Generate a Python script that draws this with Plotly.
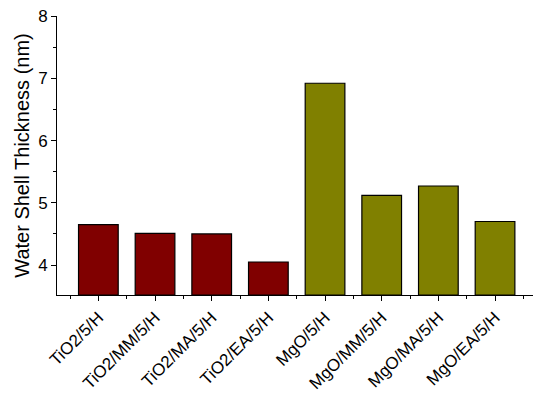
import plotly.graph_objects as go

samples = ["TiO2/5/H", "TiO2/MM/5/H", "TiO2/MA/5/H", "TiO2/EA/5/H",
           "MgO/5/H", "MgO/MM/5/H", "MgO/MA/5/H", "MgO/EA/5/H"]
thickness = [4.65, 4.51, 4.50, 4.05, 6.92, 5.12, 5.27, 4.70]
bar_colors = ["#800000"] * 4 + ["#808000"] * 4

positions = list(range(len(samples)))
y_floor = 3.52

fig = go.Figure(go.Bar(
    x=positions,
    y=[v - y_floor for v in thickness],
    base=y_floor,
    width=0.7,
    marker=dict(color=bar_colors, line=dict(color="black", width=1.2)),
    hoverinfo="skip",
))

font = dict(family="Liberation Sans, Arial", size=17, color="black")

fig.update_layout(
    width=534, height=396,
    margin=dict(l=57, r=1, t=16, b=101),
    plot_bgcolor="white", paper_bgcolor="white",
    showlegend=False,
    font=font,
)
fig.update_xaxes(
    range=[-0.73, 7.67],
    tickmode="array", tickvals=positions, ticktext=samples,
    tickangle=-45, tickfont=dict(size=17),
    showline=True, linecolor="black", linewidth=1,
    ticks="outside", ticklen=5, tickcolor="black", tickwidth=1,
    minor=dict(tickmode="array", tickvals=[p - 0.5 for p in positions] + [positions[-1] + 0.5],
               ticks="outside", ticklen=3, tickcolor="black", tickwidth=1),
    showgrid=False, zeroline=False,
)
fig.update_yaxes(
    range=[y_floor, 8],
    tickvals=[4, 5, 6, 7, 8],
    tickfont=dict(size=17),
    title=dict(text="Water Shell Thickness (nm)", font=dict(size=20), standoff=3),
    showline=True, linecolor="black", linewidth=1,
    ticks="outside", ticklen=5, tickcolor="black", tickwidth=1,
    minor=dict(tickvals=[4.5, 5.5, 6.5, 7.5],
               ticks="outside", ticklen=3, tickcolor="black", tickwidth=1),
    showgrid=False, zeroline=False,
)

fig.write_html("out.html")
